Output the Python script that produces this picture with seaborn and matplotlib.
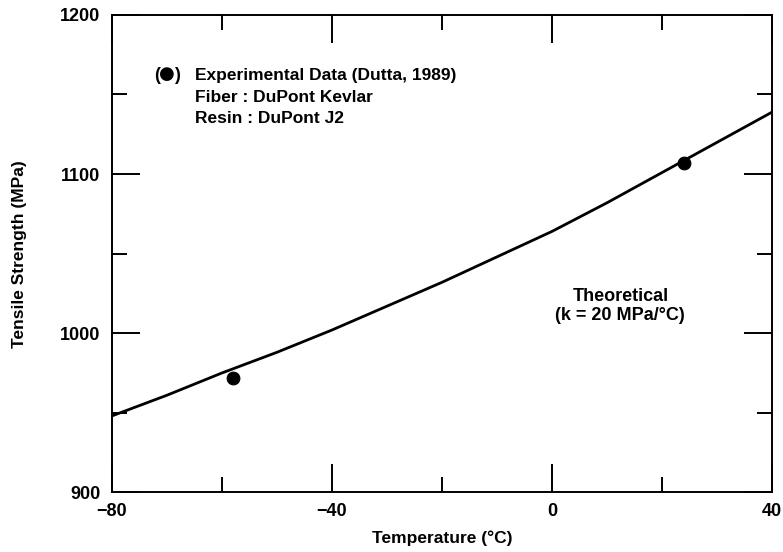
import matplotlib
matplotlib.use("Agg")
import matplotlib.pyplot as plt
import numpy as np
import pandas as pd
import seaborn as sns
from matplotlib.ticker import MultipleLocator

# theoretical curve
temp_theory = [-80, -70, -60, -50, -40, -30, -20, -10, 0, 10, 20, 30, 40]
strength_theory = [948, 961, 975, 988, 1002, 1017, 1032, 1048, 1064, 1082, 1101, 1120, 1139]

# experimental points (Dutta, 1989)
temp_exp = [-58, 24]
strength_exp = [972, 1107]

sns.set_style("ticks")
plt.rcParams['font.family'] = ['Liberation Sans', 'DejaVu Sans']
plt.rcParams['font.weight'] = 'bold'
plt.rcParams['text.color'] = 'black'
plt.rcParams['axes.labelcolor'] = 'black'

df_th = pd.DataFrame({'temp': temp_theory, 'strength': strength_theory})
df_ex = pd.DataFrame({'temp': temp_exp, 'strength': strength_exp})

fig = plt.figure(figsize=(7.83, 5.52), dpi=100)
ax = fig.add_axes([0.1427, 0.108, 0.8436, 0.865])

sns.lineplot(data=df_th, x='temp', y='strength', ax=ax, color='black', lw=2.0)
sns.scatterplot(data=df_ex, x='temp', y='strength', ax=ax, color='black', s=85,
                edgecolor='black', zorder=3)

ax.set_xlim(-80, 40)
ax.set_ylim(900, 1200)
ax.xaxis.set_major_locator(MultipleLocator(40))
ax.xaxis.set_minor_locator(MultipleLocator(20))
ax.yaxis.set_major_locator(MultipleLocator(100))
ax.yaxis.set_minor_locator(MultipleLocator(50))
ax.tick_params(which='both', direction='in', top=True, right=True, width=1.4,
               labelsize=13, colors='black')
ax.tick_params(which='major', length=20)
ax.tick_params(which='minor', length=11)
ax.tick_params(axis='x', pad=8)
ax.tick_params(axis='y', pad=8)
for sp in ax.spines.values():
    sp.set_linewidth(1.4)
    sp.set_color('black')

ax.set_xlabel('Temperature (°C)', fontsize=12.5, fontweight='bold', labelpad=7)
ax.set_ylabel('Tensile Strength (MPa)', fontsize=12.5, fontweight='bold', labelpad=24)

ax.text(0.064, 0.874, '(', transform=ax.transAxes, fontsize=13, va='center', ha='left')
ax.text(0.0835, 0.876, '●', transform=ax.transAxes, fontsize=13, va='center', ha='center',
        family='DejaVu Sans')
ax.text(0.095, 0.874, ')', transform=ax.transAxes, fontsize=13, va='center', ha='left')
ax.text(0.126, 0.874, 'Experimental Data (Dutta, 1989)', transform=ax.transAxes,
        fontsize=12.5, va='center', ha='left')
ax.text(0.126, 0.828, 'Fiber : DuPont Kevlar', transform=ax.transAxes,
        fontsize=12.5, va='center', ha='left')
ax.text(0.126, 0.782, 'Resin : DuPont J2', transform=ax.transAxes,
        fontsize=12.5, va='center', ha='left')

ax.text(12.4, 1017, 'Theoretical\n(k = 20 MPa/°C)', fontsize=13, ha='center', va='center',
        linespacing=1.2)

fig.savefig('out.png', dpi=100)
